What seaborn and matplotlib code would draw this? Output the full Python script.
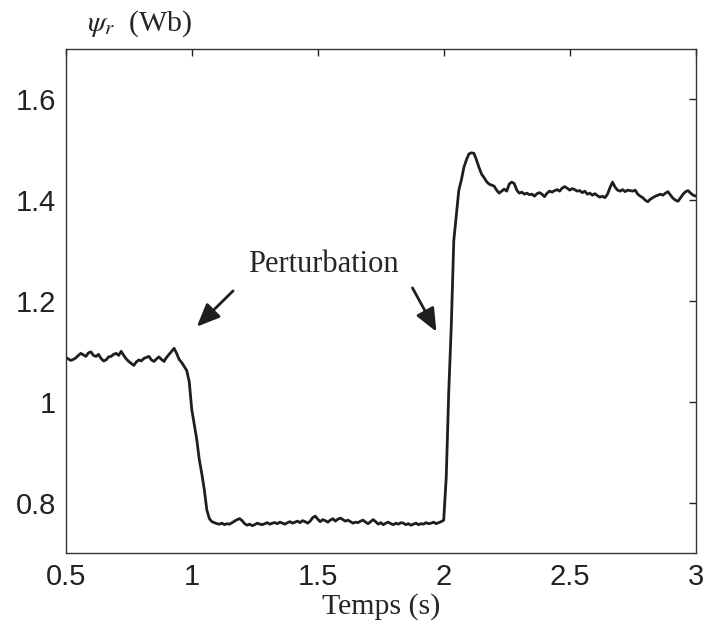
import numpy as np
import pandas as pd
import seaborn as sns
import matplotlib.pyplot as plt

# Flux rotorique, un point toutes les 10 ms (0.50 -> 3.00 s)
flux_avant = [1.088, 1.085, 1.082, 1.084, 1.087, 1.092, 1.096, 1.093, 1.090, 1.097,
              1.099, 1.092, 1.090, 1.094, 1.086, 1.081, 1.083, 1.089, 1.090, 1.094,
              1.096, 1.092, 1.100, 1.092, 1.085, 1.080, 1.076, 1.072, 1.079, 1.083,
              1.081, 1.086, 1.088, 1.090, 1.083, 1.080, 1.085, 1.089, 1.084, 1.080,
              1.088, 1.094, 1.100, 1.106, 1.096, 1.084, 1.078, 1.070]          # 0.50 - 0.97
flux_chute = [1.062, 1.040, 0.985, 0.955, 0.925, 0.885, 0.857, 0.825, 0.785, 0.768,
              0.762]                                                            # 0.98 - 1.08
flux_bas = [0.760, 0.758, 0.757, 0.759, 0.756, 0.758, 0.757, 0.760, 0.763, 0.766,
            0.768, 0.764, 0.758, 0.755, 0.757, 0.754, 0.756, 0.759, 0.757, 0.756,
            0.758, 0.760, 0.757, 0.759, 0.760, 0.758, 0.761, 0.759, 0.757, 0.760,
            0.762, 0.759, 0.761, 0.763, 0.760, 0.764, 0.762, 0.759, 0.763, 0.770,
            0.773, 0.767, 0.762, 0.766, 0.764, 0.761, 0.765, 0.768, 0.763, 0.767,
            0.769, 0.766, 0.763, 0.765, 0.762, 0.759, 0.761, 0.760, 0.763, 0.765,
            0.761, 0.758, 0.762, 0.766, 0.762, 0.757, 0.760, 0.756, 0.759, 0.761,
            0.758, 0.756, 0.759, 0.757, 0.760, 0.759, 0.756, 0.758, 0.755, 0.757,
            0.759, 0.756, 0.758, 0.757, 0.760, 0.758, 0.759, 0.761, 0.758, 0.760,
            0.762, 0.765]                                                       # 1.09 - 2.00
flux_montee = [0.850, 1.020, 1.150, 1.320, 1.370, 1.420, 1.440, 1.465, 1.480, 1.492,
               1.494, 1.493, 1.480, 1.465, 1.452, 1.445, 1.437, 1.432, 1.430, 1.428]  # 2.01 - 2.20
flux_apres = [1.420, 1.414, 1.418, 1.422, 1.418, 1.432, 1.436, 1.433, 1.420, 1.414,
              1.416, 1.412, 1.414, 1.411, 1.412, 1.408, 1.413, 1.415, 1.412, 1.407,
              1.414, 1.418, 1.416, 1.419, 1.421, 1.418, 1.424, 1.427, 1.424, 1.420,
              1.423, 1.421, 1.418, 1.419, 1.415, 1.418, 1.412, 1.414, 1.410, 1.413,
              1.409, 1.406, 1.408, 1.405, 1.412, 1.425, 1.436, 1.426, 1.420, 1.418,
              1.421, 1.417, 1.420, 1.419, 1.418, 1.420, 1.412, 1.408, 1.405, 1.400,
              1.397, 1.402, 1.405, 1.408, 1.410, 1.412, 1.410, 1.414, 1.417, 1.410,
              1.404, 1.400, 1.398, 1.405, 1.412, 1.417, 1.419, 1.414, 1.410, 1.408]  # 2.21 - 3.00

flux = flux_avant + flux_chute + flux_bas + flux_montee + flux_apres
assert len(flux) == 251, len(flux)
temps = np.linspace(0.5, 3.0, len(flux))
df = pd.DataFrame({'Temps': temps, 'Flux': flux})

sns.set_style('white')
plt.rcParams['font.family'] = ['Liberation Sans', 'DejaVu Sans']
plt.rcParams['mathtext.fontset'] = 'stix'

fig = plt.figure(figsize=(7.07, 6.29), dpi=100)
ax = fig.add_axes([0.093, 0.121, 0.891, 0.801])

sns.lineplot(data=df, x='Temps', y='Flux', ax=ax, color='#1e1e1e', linewidth=2)

ax.set_xlim(0.5, 3)
ax.set_ylim(0.7, 1.7)
ax.set_xticks([0.5, 1, 1.5, 2, 2.5, 3])
ax.set_xticklabels(['0.5', '1', '1.5', '2', '2.5', '3'])
ax.set_yticks([0.8, 1, 1.2, 1.4, 1.6])
ax.set_yticklabels(['0.8', '1', '1.2', '1.4', '1.6'])
ax.tick_params(direction='in', length=5, width=1, top=True, right=True,
               labelsize=21, colors='#222222', pad=7)
for sp in ax.spines.values():
    sp.set_color('#333333')
    sp.set_linewidth(1)

ax.set_xlabel('Temps (s)', family='Liberation Serif', fontsize=21.5, labelpad=2)
ax.set_ylabel('')
fig.text(0.198, 0.962, r'$\psi_r$  (Wb)', family='Liberation Serif', fontsize=21.5,
         ha='center', va='center')

# Annotations
ax.text(1.524, 1.273, 'Perturbation', family='Liberation Serif', fontsize=22,
        ha='center', va='center')
fleche = dict(arrowstyle='-|>,head_length=1.4,head_width=0.6', color='#1e1e1e',
              lw=2, shrinkA=0, shrinkB=0)
ax.annotate('', xy=(1.02, 1.149), xytext=(1.164, 1.220), arrowprops=fleche)
ax.annotate('', xy=(1.971, 1.139), xytext=(1.876, 1.226), arrowprops=fleche)

plt.savefig('out.png', dpi=100)
